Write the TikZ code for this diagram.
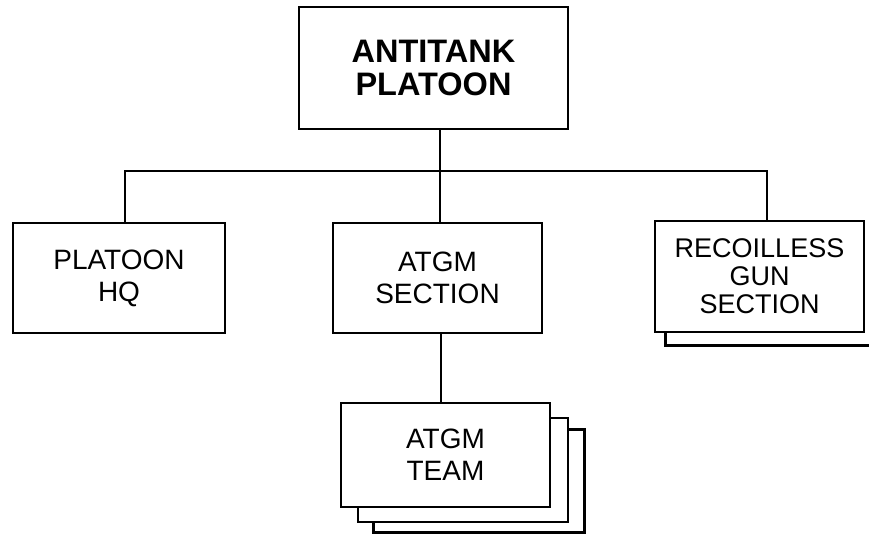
\documentclass[tikz,border=0pt]{standalone}
\usepackage{fontspec}
\setmainfont{Liberation Sans}
\begin{document}
\begin{tikzpicture}[x=1pt,y=-1pt,
  box/.style={draw=black,fill=white,line width=2.8pt,rectangle,align=center,
    inner sep=0pt,font=\fontsize{28}{32}\selectfont},
  topbox/.style={box,font=\fontsize{32.5}{33}\selectfont\bfseries},
  conn/.style={draw=black,line width=2.8pt}]
\useasboundingbox (0,0) rectangle (869,542);
\clip (0,0) rectangle (869,542);
\fill[white] (0,0) rectangle (869,542);
% top
\node[topbox,minimum width=269pt,minimum height=122pt] (top) at (433.5,68) {ANTITANK\\PLATOON};
% level 2
\node[box,minimum width=212pt,minimum height=110pt] (hq) at (119,278) {PLATOON\\HQ};
\node[box,minimum width=209pt,minimum height=110pt] (sec) at (437.5,278) {ATGM\\SECTION};
\node[box,minimum width=209pt,minimum height=111pt,font=\fontsize{27}{28}\selectfont] (rg) at (759.5,276.5) {RECOILLESS\\GUN\\SECTION};
\draw[conn] ([xshift=12pt]rg.south west) |- ++(220,12);
% team stack
\node[box,minimum width=211pt,minimum height=103pt] (t3) at (479,481) {};
\node[box,minimum width=210pt,minimum height=104pt] (t2) at (463,470) {};
\node[box,minimum width=209pt,minimum height=104pt] (team) at (445.5,455) {ATGM\\TEAM};
% connectors
\coordinate (bus) at (440,171);
\coordinate (hqx) at (125,0);
\coordinate (rgx) at (767,0);
\coordinate (tx) at (441,0);
\draw[conn] (top.south -| bus) -- (bus);
\draw[conn] (hq.north -| hqx) |- (bus) -| (rg.north -| rgx);
\draw[conn] (bus) -- (sec.north -| bus);
\draw[conn] (sec.south -| tx) -- (team.north -| tx);
\end{tikzpicture}
\end{document}
